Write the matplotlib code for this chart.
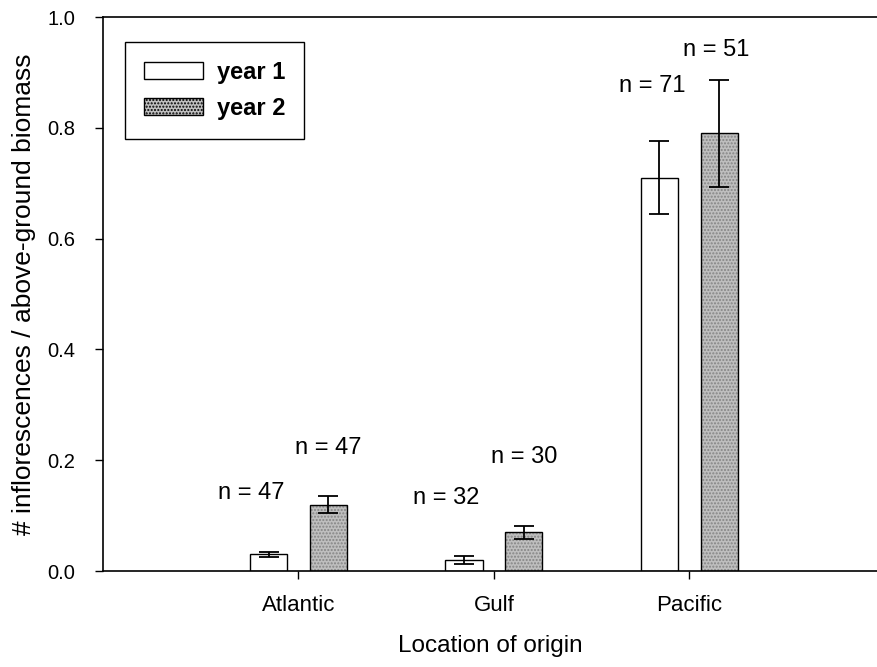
import numpy as np
import matplotlib.pyplot as plt
from matplotlib.patches import Patch

plt.rcParams['font.family'] = ['Liberation Sans', 'DejaVu Sans']

locations = ["Atlantic", "Gulf", "Pacific"]
year1_mean = [0.03, 0.02, 0.71]
year1_err = [0.005, 0.008, 0.066]
year2_mean = [0.12, 0.07, 0.79]
year2_err = [0.015, 0.012, 0.096]
year1_n = [47, 32, 71]
year2_n = [47, 30, 51]

# where the "n = .." labels sit (x offset from their bar, y centre in data units)
year1_label_dx = [-0.087, -0.092, -0.036]
year1_label_y = [0.141, 0.132, 0.875]
year2_label_dx = [0.0, 0.0, -0.015]
year2_label_y = [0.222, 0.206, 0.940]

x = np.arange(1, len(locations) + 1)
offset = 0.153
width = 0.19
gray = '#bfbfbf'

fig = plt.figure(figsize=(8.77, 6.67), dpi=100)
ax = fig.add_axes([0.1174, 0.1439, 0.8826, 0.8306])

ax.bar(x - offset, year1_mean, width, color='white', edgecolor='black', linewidth=1.0)
# stippled fill for the second year, outline drawn on top
ax.bar(x + offset, year2_mean, width, color=gray, edgecolor='#858585',
       hatch='.....', linewidth=0)
ax.bar(x + offset, year2_mean, width, fill=False, edgecolor='black', linewidth=1.0)

ax.errorbar(x - offset, year1_mean, yerr=year1_err, fmt='none', ecolor='black',
            elinewidth=1.3, capsize=7, capthick=1.3)
ax.errorbar(x + offset, year2_mean, yerr=year2_err, fmt='none', ecolor='black',
            elinewidth=1.3, capsize=7, capthick=1.3)

for i in range(len(locations)):
    ax.text(x[i] - offset + year1_label_dx[i], year1_label_y[i], f"n = {year1_n[i]}",
            ha='center', va='center', fontsize=17)
    ax.text(x[i] + offset + year2_label_dx[i], year2_label_y[i], f"n = {year2_n[i]}",
            ha='center', va='center', fontsize=17)

ax.set_xlim(0, 3.96)
ax.set_ylim(0, 1.0)
ax.set_xticks(x)
ax.set_xticklabels(locations, fontsize=16)
ax.set_yticks([0.0, 0.2, 0.4, 0.6, 0.8, 1.0])
ax.set_yticklabels(["0.0", "0.2", "0.4", "0.6", "0.8", "1.0"], fontsize=14.5)
ax.tick_params(axis='both', direction='out', length=6, width=1.0)
ax.tick_params(axis='x', pad=11)
ax.tick_params(axis='y', pad=14)
ax.spines['right'].set_visible(False)
for s in ['left', 'top', 'bottom']:
    ax.spines[s].set_linewidth(1.2)

ax.set_xlabel("Location of origin", fontsize=17.5, labelpad=14)
ax.set_ylabel("# inflorescences / above-ground biomass", fontsize=19, labelpad=8)

handles = [Patch(facecolor='white', edgecolor='black', linewidth=1.0),
           Patch(facecolor=gray, edgecolor='black', hatch='.....', linewidth=1.0)]
leg = ax.legend(handles, ["year 1", "year 2"], loc='upper left',
                bbox_to_anchor=(0.028, 0.955), borderaxespad=0,
                prop={'weight': 'bold', 'size': 17},
                handlelength=2.5, handleheight=0.72, handletextpad=0.6,
                borderpad=0.8, labelspacing=0.55, fancybox=False, framealpha=1)
leg.get_frame().set_edgecolor('black')
leg.get_frame().set_linewidth(1.0)

fig.savefig("out.png", dpi=100)
